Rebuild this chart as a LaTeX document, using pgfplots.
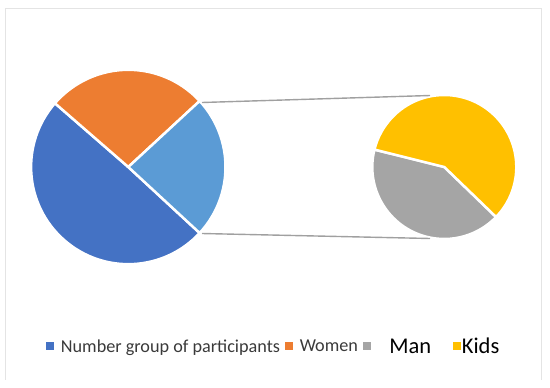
\documentclass[border=0pt]{standalone}
\usepackage{fontspec}
\setmainfont{Carlito}
\usepackage{pgfplots}
\usepackage{pgfplotstable}
\pgfplotsset{compat=1.18}
\definecolor{cblue}{HTML}{4472C4}
\definecolor{corange}{HTML}{ED7D31}
\definecolor{clblue}{HTML}{5B9BD5}
\definecolor{cgray}{HTML}{A5A5A5}
\definecolor{cyellow}{HTML}{FFC000}
\definecolor{ctext}{HTML}{3A3A3A}
\definecolor{cline}{HTML}{A0A0A0}
\definecolor{cframe}{HTML}{E4E4E4}

\pgfplotstableread{
label value
Number 50
Women 27
Man 10
Kids 14
}\piedata

\begin{document}
\begin{tikzpicture}
\pgfplotstablegetelem{0}{value}\of\piedata \let\vN\pgfplotsretval
\pgfplotstablegetelem{1}{value}\of\piedata \let\vW\pgfplotsretval
\pgfplotstablegetelem{2}{value}\of\piedata \let\vM\pgfplotsretval
\pgfplotstablegetelem{3}{value}\of\piedata \let\vK\pgfplotsretval
\pgfmathsetmacro\tot{\vN+\vW+\vM+\vK}
\pgfmathsetmacro\aO{(\vM+\vK)/\tot*360}
\pgfmathsetmacro\aW{\vW/\tot*360}
\pgfmathsetmacro\sO{-\aO/2}
\pgfmathsetmacro\eO{\aO/2}
\pgfmathsetmacro\eW{\eO+\aW}
\pgfmathsetmacro\eN{360+\sO}
\pgfmathsetmacro\aM{\vM/(\vM+\vK)*360}
\pgfmathsetmacro\sM{166}
\pgfmathsetmacro\eM{\sM+\aM}
\pgfmathsetmacro\eK{\sM+360}
\begin{axis}[
  width=550pt, height=388pt, scale only axis,
  xmin=0, xmax=550, ymin=0, ymax=388, y dir=reverse,
  hide axis, clip=false,
  legend columns=4,
  legend style={draw=none, fill=none, at={(axis cs:46,346)}, anchor=west,
    inner xsep=0pt, inner ysep=0pt,
    font=\fontsize{18.2}{21}\selectfont, text=ctext,
    nodes={inner sep=0pt, text depth=0pt},
    /tikz/every odd column/.append style={column sep=7pt},
    /tikz/every even column/.append style={column sep=5pt}},
  legend image code/.code={\fill[#1] (0pt,-3.6pt) rectangle (7.3pt,3.6pt);},
]
\path (axis cs:0,0) rectangle (axis cs:550,388);
\draw[cframe, line width=1pt] (axis cs:5.5,380) -- (axis cs:5.5,8) -- (axis cs:541,8) -- (axis cs:541,380);

% left pie
\fill[cblue, draw=white, line width=2.5pt] (axis cs:128.3,167) -- ++(\eW:97.2pt) arc[start angle=\eW, end angle=\eN, radius=97.2pt] -- cycle;
\fill[corange, draw=white, line width=2.5pt] (axis cs:128.3,167) -- ++(\eO:97.2pt) arc[start angle=\eO, end angle=\eW, radius=97.2pt] -- cycle;
\fill[clblue, draw=white, line width=2.5pt] (axis cs:128.3,167) -- ++(\sO:97.2pt) arc[start angle=\sO, end angle=\eO, radius=97.2pt] -- cycle;

% right pie
\fill[cgray, draw=white, line width=2.5pt] (axis cs:444.3,167) -- ++(\sM:72pt) arc[start angle=\sM, end angle=\eM, radius=72pt] -- cycle;
\fill[cyellow, draw=white, line width=2.5pt] (axis cs:444.3,167) -- ++(\eM:72pt) arc[start angle=\eM, end angle=\eK, radius=72pt] -- cycle;

% connector lines
\addplot[cline, line width=1.4pt, forget plot] coordinates {(202,102.5) (430,95.5)};
\addplot[cline, line width=1.4pt, forget plot] coordinates {(202,233.5) (430,238.5)};

\addlegendimage{cblue}
\addlegendentry{Number group of participants}
\addlegendimage{corange}
\addlegendentry{Women}
\addlegendimage{cgray}
\addlegendentry{\kern11.7pt{\fontsize{22.5}{25}\selectfont\color{black}Man}\kern17pt}
\addlegendimage{cyellow}
\addlegendentry{\kern-6pt{\fontsize{22.5}{25}\selectfont\color{black}Kids}}
\end{axis}
\end{tikzpicture}
\end{document}
